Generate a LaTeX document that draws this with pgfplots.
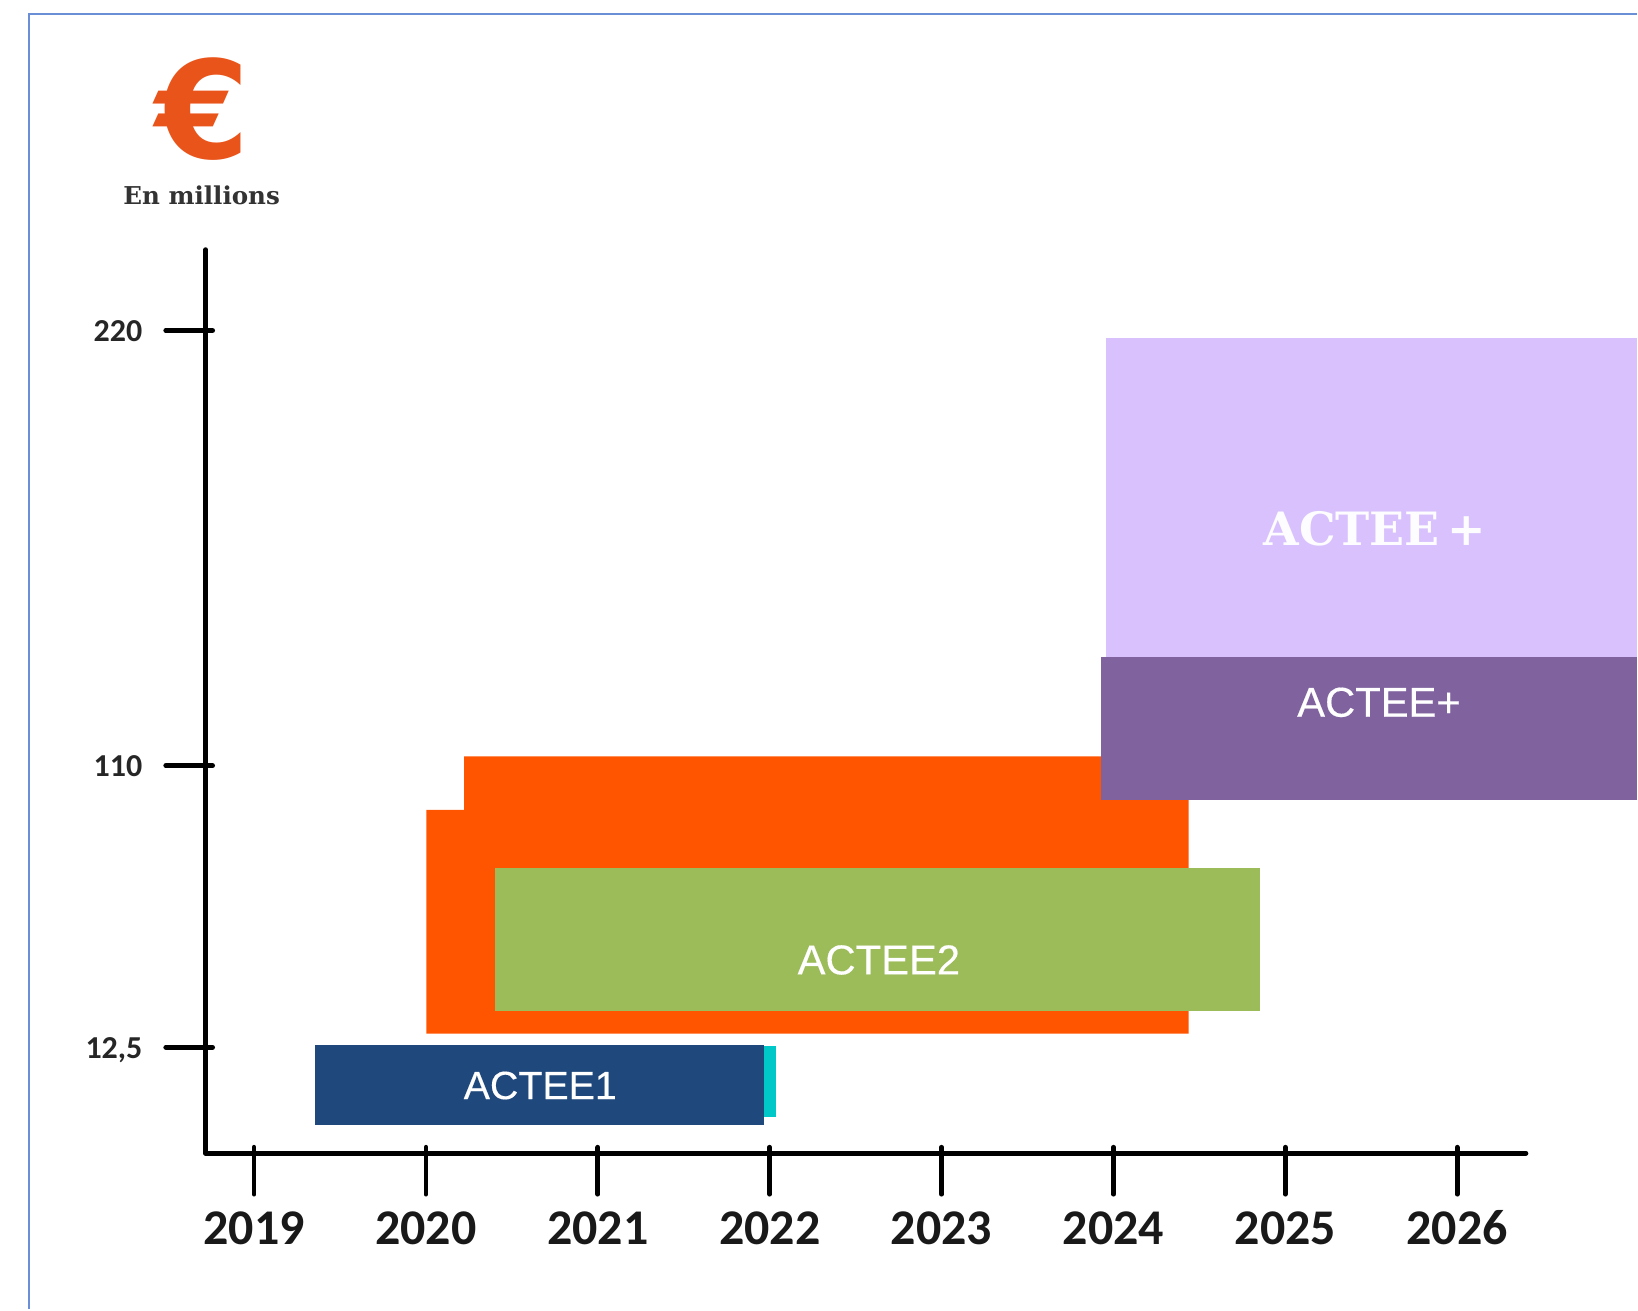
\documentclass[border=0pt]{standalone}
\usepackage{pgfplots}
\pgfplotsset{compat=1.18}
\usepackage{fontspec}
\setmainfont{Liberation Sans}
\newfontfamily\barfont{Liberation Sans}[FakeBold=0.35]
\newfontfamily\tickfont{Carlito}
\newfontfamily\slabfont{DejaVu Serif}
\newfontfamily\eurofont{DejaVu Sans}
\definecolor{framec}{HTML}{6B8FD6}
\definecolor{lilac}{HTML}{D8C1FD}
\definecolor{purp}{HTML}{80639E}
\definecolor{orangec}{HTML}{FF5500}
\definecolor{greenc}{HTML}{9CBB59}
\definecolor{navy}{HTML}{1F497D}
\definecolor{tealc}{HTML}{00C8C8}
\definecolor{euroc}{HTML}{E9541A}
\begin{document}
\begin{tikzpicture}
\begin{axis}[
  at={(0,-0.75pt)}, anchor=south west,
  scale only axis, width=661.05pt, height=452.4pt,
  xmin=2018.718, xmax=2026.40, ymin=-1.5, ymax=903.3,
  clip=false,
  axis x line*=bottom, axis y line*=left,
  axis line style={-, line width=2.4pt, black, line cap=round},
  xtick={2019,2020,2021,2022,2023,2024,2025,2026},
  xticklabels={2019,2020,2021,2022,2023,2024,2025,2026},
  ytick={104.6,386.6,822.3},
  yticklabels={{12,5},110,220},
  tick align=outside,
  major tick length=23.5pt,
  x tick style={black, line width=2.4pt, yshift=3pt, line cap=round},
  y tick style={black, line width=2.4pt, xshift=3.5pt, line cap=round},
  xticklabel shift=2.5pt,
  yticklabel shift=4.7pt,
  xticklabel style={font=\tickfont\bfseries\fontsize{25}{25}\selectfont, text=black!90, text height=16pt, text depth=0pt},
  yticklabel style={font=\tickfont\bfseries\fontsize{16}{16}\selectfont, text=black!85, text height=11pt, text depth=0pt},
]
% frame
\addplot[framec, line width=1.2pt] coordinates {(2017.690,-157.7)(2017.690,1139)(2027.045,1139)};
% bars
\addplot[draw=none, fill=orangec] coordinates {(2020.003,118.3)(2024.437,118.3)(2024.437,396)(2020.222,396)(2020.222,342.3)(2020.003,342.3)} -- cycle;
\addplot[draw=none, fill=greenc] coordinates {(2020.401,141.3)(2024.854,141.3)(2024.854,284.3)(2020.401,284.3)} -- cycle;
\addplot[draw=none, fill=tealc] coordinates {(2021.965,35)(2022.038,35)(2022.038,106)(2021.965,106)} -- cycle;
\addplot[draw=none, fill=navy] coordinates {(2019.352,26.3)(2021.965,26.3)(2021.965,107.3)(2019.352,107.3)} -- cycle;
\addplot[draw=none, fill=lilac] coordinates {(2023.954,495.6)(2027.045,495.6)(2027.045,815.3)(2023.954,815.3)} -- cycle;
\addplot[draw=none, fill=purp] coordinates {(2023.925,352.3)(2027.045,352.3)(2027.045,495.6)(2023.925,495.6)} -- cycle;
% labels
\node[text=white, font=\barfont\fontsize{19.7}{20}\selectfont] at (axis cs:2020.665,66.3) {ACTEE1};
\node[text=white, font=\barfont\fontsize{20.9}{21}\selectfont] at (axis cs:2022.635,192) {ACTEE2};
\node[text=white, font=\barfont\fontsize{20.9}{21}\selectfont] at (axis cs:2025.545,450) {ACTEE+};
\node[text=white!95!lilac, font=\slabfont\bfseries\fontsize{23}{23}\selectfont] at (axis cs:2025.52,623.7) {ACTEE\,+};
\node[text=euroc, inner sep=0pt, font=\eurofont\bfseries\fontsize{68}{68}\selectfont] at (axis cs:2018.70,1044) {€};
\node[text=black!80, inner sep=0pt, font=\slabfont\bfseries\fontsize{12.3}{12.3}\selectfont] at (axis cs:2018.695,958) {En millions};
\end{axis}
\path[use as bounding box] (-102.95pt,-78.35pt) rectangle (716.05pt,576.65pt);
\end{tikzpicture}
\end{document}
